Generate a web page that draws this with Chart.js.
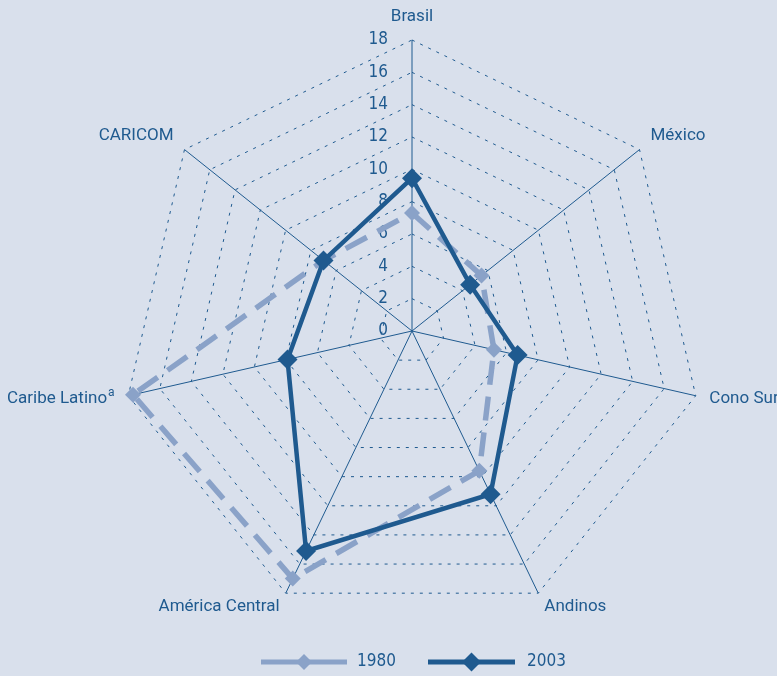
<!DOCTYPE html>
<html>
<head>
<meta charset="utf-8">
<script src="https://cdn.jsdelivr.net/npm/chart.js@4/dist/chart.umd.min.js"></script>
<style>
  html, body { margin: 0; padding: 0; background: #d9e0ec; }
  #wrap { width: 777px; height: 676px; }
</style>
</head>
<body>
<div id="wrap"><canvas id="radar"></canvas></div>
<script>
const categories = ["Brasil", "México", "Cono Sur", "Andinos", "América Central", "Caribe Latino", "CARICOM"];
const values1980 = [7.3, 5.5, 5.2, 9.6, 17.0, 17.7, 7.0];
const values2003 = [9.45, 4.6, 6.7, 11.2, 15.1, 7.9, 7.0];
const tickValues = [0, 2, 4, 6, 8, 10, 12, 14, 16, 18];
const seriesNames = ["1980", "2003"];

const DARK = "#1f5a8f";
const LIGHT = "#8aa2c8";
const LABEL_FONT = '17px Roboto, "Liberation Sans", sans-serif';
const NUM_FONT = '17px "Liberation Sans Narrow", "DejaVu Sans Condensed", sans-serif';

function diamond(ctx, x, y, r, color) {
    ctx.beginPath();
    ctx.moveTo(x, y - r);
    ctx.lineTo(x + r, y);
    ctx.lineTo(x, y + r);
    ctx.lineTo(x - r, y);
    ctx.closePath();
    ctx.fillStyle = color;
    ctx.fill();
}

const overlay = {
    id: "overlay",
    beforeDatasetsDraw(chart) {
        const ctx = chart.ctx;
        const r = chart.scales.r;
        ctx.save();
        ctx.fillStyle = DARK;

        // tick numbers, left of the Brasil axis
        ctx.font = NUM_FONT;
        ctx.textAlign = "right";
        ctx.textBaseline = "middle";
        tickValues.forEach(v => {
            const p = r.getPointPositionForValue(0, v);
            ctx.fillText(String(v), p.x - 24, p.y);
        });

        // axis names
        ctx.font = LABEL_FONT;
        categories.forEach((lab, i) => {
            const top = i === 0;
            const p = r.getPointPosition(i, r.drawingArea + (top ? 18 : 14));
            const dx = p.x - r.xCenter;
            const dy = (p.y - r.yCenter) / r.drawingArea;
            let y = p.y + (dy < -0.3 ? -5 : dy > 0.5 ? 1 : 0);
            ctx.textBaseline = "middle";
            if (top) {
                ctx.textAlign = "center";
                ctx.fillText(lab, p.x, y);
            } else if (dx > 0) {
                ctx.textAlign = "left";
                ctx.fillText(lab, p.x, y);
            } else {
                ctx.textAlign = "right";
                let x = p.x;
                if (lab === "Caribe Latino") {
                    ctx.font = '12px Roboto, sans-serif';
                    ctx.fillText("a", x, y - 6);
                    x -= ctx.measureText("a").width + 1;
                    ctx.font = LABEL_FONT;
                }
                ctx.fillText(lab, x, y);
            }
        });
        ctx.restore();
    },
    afterDraw(chart) {
        const ctx = chart.ctx;
        const y = 662;
        const items = [
            { name: seriesNames[0], color: LIGHT, x0: 261, x1: 347, mark: 8, tx: 357 },
            { name: seriesNames[1], color: DARK, x0: 428, x1: 515, mark: 9.5, tx: 527 }
        ];
        ctx.save();
        items.forEach(it => {
            ctx.strokeStyle = it.color;
            ctx.lineWidth = 5;
            ctx.beginPath();
            ctx.moveTo(it.x0, y);
            ctx.lineTo(it.x1, y);
            ctx.stroke();
            diamond(ctx, (it.x0 + it.x1) / 2, y, it.mark, it.color);
            ctx.fillStyle = DARK;
            ctx.font = NUM_FONT;
            ctx.textAlign = "left";
            ctx.textBaseline = "middle";
            ctx.fillText(it.name, it.tx, y);
        });
        ctx.restore();
    }
};

new Chart(document.getElementById("radar"), {
    type: "radar",
    data: {
        labels: categories,
        datasets: [
            {
                label: seriesNames[0],
                data: values1980,
                borderColor: LIGHT,
                backgroundColor: "transparent",
                borderWidth: 5.5,
                borderDash: [24, 12],
                pointStyle: "rectRot",
                pointRadius: 8,
                pointBackgroundColor: LIGHT,
                pointBorderColor: LIGHT,
                pointBorderWidth: 0,
                fill: false,
                order: 1
            },
            {
                label: seriesNames[1],
                data: values2003,
                borderColor: DARK,
                backgroundColor: "transparent",
                borderWidth: 4.5,
                pointStyle: "rectRot",
                pointRadius: 10,
                pointBackgroundColor: DARK,
                pointBorderColor: DARK,
                pointBorderWidth: 0,
                fill: false,
                order: 0
            }
        ]
    },
    options: {
        responsive: true,
        maintainAspectRatio: false,
        animation: false,
        layout: { padding: { top: 40, bottom: 54, left: 121, right: 74 } },
        plugins: {
            legend: { display: false },
            tooltip: { enabled: false }
        },
        scales: {
            r: {
                min: 0,
                max: 18,
                ticks: { stepSize: 2, display: false },
                pointLabels: { display: false },
                angleLines: { color: DARK, lineWidth: 1 },
                grid: { color: DARK, lineWidth: 1 },
                border: { dash: [3, 6] }
            }
        }
    },
    plugins: [overlay]
});
</script>
</body>
</html>
